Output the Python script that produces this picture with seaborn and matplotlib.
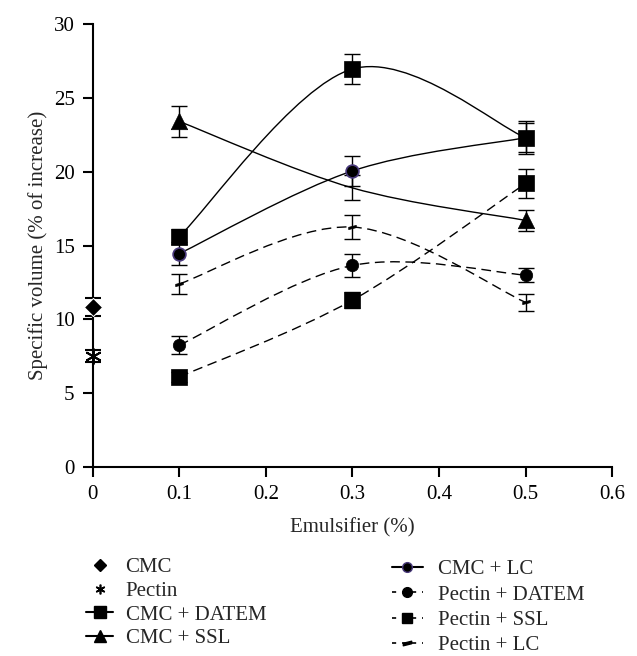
import numpy as np
import matplotlib
matplotlib.use("Agg")
import matplotlib.pyplot as plt
from matplotlib.path import Path
from matplotlib.patches import PathPatch
from matplotlib.lines import Line2D
import seaborn as sns

# ---- data ----
x_single = [0.0]
cmc = [10.85]
cmc_err = [0.6]
pectin = [7.5]
pectin_err = [0.4]

x_emul = [0.1, 0.3, 0.5]
cmc_datem = [15.6, 26.95, 22.3]
cmc_datem_err = [0.5, 1.0, 1.1]
cmc_ssl = [23.4, 18.9, 16.7]
cmc_ssl_err = [1.05, 0.85, 0.7]
cmc_lc = [14.45, 20.05, 22.3]
cmc_lc_err = [0.8, 1.0, 1.0]
pectin_datem = [8.25, 13.65, 13.0]
pectin_datem_err = [0.6, 0.8, 0.5]
pectin_ssl = [6.1, 11.3, 19.2]
pectin_ssl_err = [0.35, 0.55, 0.95]
pectin_lc = [12.4, 16.25, 11.15]
pectin_lc_err = [0.7, 0.8, 0.6]

labels_left = ["CMC", "Pectin", "CMC + DATEM", "CMC + SSL"]
labels_right = ["CMC + LC", "Pectin + DATEM", "Pectin + SSL", "Pectin + LC"]

# ---- style ----
sns.set_style("ticks")
plt.rcParams["font.family"] = ["Liberation Serif", "DejaVu Serif"]
plt.rcParams["font.size"] = 15
FS = 15

fig = plt.figure(figsize=(6.37, 6.56), dpi=100)
ax = fig.add_axes([0.1455, 0.288, 0.8155, 0.6755])

LC_MARK = Path([(-1.0, -0.55), (1.0, -0.05), (1.0, 0.55), (-1.0, 0.05), (-1.0, -0.55)],
               [Path.MOVETO, Path.LINETO, Path.LINETO, Path.LINETO, Path.CLOSEPOLY])
PECTIN_MARK = (6, 2, 0)
PURPLE = "#4a3a7c"


def smooth_curve(xs, ys, ls):
    pts = np.column_stack([xs, ys]).astype(float)
    n = len(pts)
    ext = np.vstack([pts[0], pts, pts[-1]])
    verts = [tuple(pts[0])]
    codes = [Path.MOVETO]
    for i in range(n - 1):
        p0, p1, p2, p3 = ext[i], ext[i + 1], ext[i + 2], ext[i + 3]
        c1 = p1 + (p2 - p0) / 6.0
        c2 = p2 - (p3 - p1) / 6.0
        verts += [tuple(c1), tuple(c2), tuple(p2)]
        codes += [Path.CURVE4] * 3
    patch = PathPatch(Path(verts, codes), facecolor="none", edgecolor="black",
                      lw=1.0, zorder=2)
    if ls == "--":
        patch.set_linestyle((0, (7, 4)))
    ax.add_patch(patch)


# order: drawn first = underneath
series = [
    (cmc_lc, cmc_lc_err, "-", "o", 85, PURPLE, [0, 1, 2], 4),
    (cmc_datem, cmc_datem_err, "-", "s", 135, "black", [0, 1, 2], 5),
    (cmc_ssl, cmc_ssl_err, "-", "^", 140, "black", [0, 2], 5),
    (pectin_datem, pectin_datem_err, "--", "o", 80, "black", [0, 1, 2], 5),
    (pectin_ssl, pectin_ssl_err, "--", "s", 135, "black", [0, 1, 2], 5),
    (pectin_lc, pectin_lc_err, "--", LC_MARK, 30, "black", [0, 1, 2], 5),
]

for ys, errs, ls, mk, s, ec, show, z in series:
    smooth_curve(x_emul, ys, ls)
    ax.errorbar(x_emul, ys, yerr=errs, fmt="none", ecolor="black", elinewidth=1.0,
                capsize=5.5, capthick=1.0, zorder=3)
    xs_m = [x_emul[i] for i in show]
    ys_m = [ys[i] for i in show]
    sns.scatterplot(x=xs_m, y=ys_m, marker=mk, s=s, color="black", edgecolor=ec,
                    linewidth=1.2 if ec != "black" else 0.5, ax=ax, zorder=z)

ax.errorbar(x_single, cmc, yerr=cmc_err, fmt="none", ecolor="black", elinewidth=1.0,
            capsize=5.5, capthick=1.5, zorder=3, clip_on=False)
sns.scatterplot(x=x_single, y=cmc, marker="D", s=85, color="black", ax=ax, zorder=6,
                clip_on=False)
ax.errorbar(x_single, pectin, yerr=pectin_err, fmt="none", ecolor="black", elinewidth=1.0,
            capsize=5.5, capthick=1.5, zorder=3, clip_on=False)
ax.scatter(x_single, pectin, marker=PECTIN_MARK, s=120, color="black", linewidths=1.4,
           zorder=6, clip_on=False)

ax.set_xlim(0, 0.6)
ax.set_ylim(0, 30)
ax.set_xticks(np.arange(0, 0.61, 0.1))
ax.set_xticklabels(["0", "0.1", "0.2", "0.3", "0.4", "0.5", "0.6"])
ax.set_yticks(np.arange(0, 31, 5))
for sp in ["top", "right"]:
    ax.spines[sp].set_visible(False)
for sp in ["left", "bottom"]:
    ax.spines[sp].set_linewidth(1.5)
    ax.spines[sp].set_color("black")
ax.tick_params(axis="both", direction="out", length=7, width=1.5, colors="black",
               labelsize=FS)
ax.tick_params(axis="y", pad=6)
ax.tick_params(axis="x", pad=6)
ax.set_xlabel("Emulsifier (%)", fontsize=FS, labelpad=10)
ax.set_ylabel("Specific volume (% of increase)", fontsize=FS, labelpad=4)

# ---- legends ----
h_left = [
    Line2D([], [], linestyle="none", marker="D", markersize=6, color="black"),
    Line2D([], [], linestyle="none", marker=PECTIN_MARK, markersize=7, color="black", mew=1.2),
    Line2D([], [], linestyle="-", lw=1.5, marker="s", markersize=8, color="black"),
    Line2D([], [], linestyle="-", lw=1.5, marker="^", markersize=8, color="black"),
]
h_right = [
    Line2D([], [], linestyle="-", lw=1.5, marker="o", markersize=7, color="black",
           markeredgecolor=PURPLE),
    Line2D([], [], linestyle=(0, (2.5, 3.5)), lw=1.2, marker="o", markersize=7, color="black"),
    Line2D([], [], linestyle=(0, (2.5, 3.5)), lw=1.2, marker="s", markersize=7, color="black"),
    Line2D([], [], linestyle=(0, (2.5, 3.5)), lw=1.2, marker=LC_MARK, markersize=6, color="black"),
]
leg_left = fig.legend(h_left, labels_left, loc="upper left",
                      bbox_to_anchor=(0.135, 0.150), bbox_transform=fig.transFigure,
                      frameon=False, fontsize=FS, handlelength=1.3, handletextpad=0.6,
                      labelspacing=0.2, borderpad=0, borderaxespad=0)
leg_right = fig.legend(h_right, labels_right, loc="upper left",
                       bbox_to_anchor=(0.615, 0.147), bbox_transform=fig.transFigure,
                       frameon=False, fontsize=FS, handlelength=1.5, handletextpad=0.7,
                       labelspacing=0.28, borderpad=0, borderaxespad=0)

fig.savefig("out.png", dpi=100)
